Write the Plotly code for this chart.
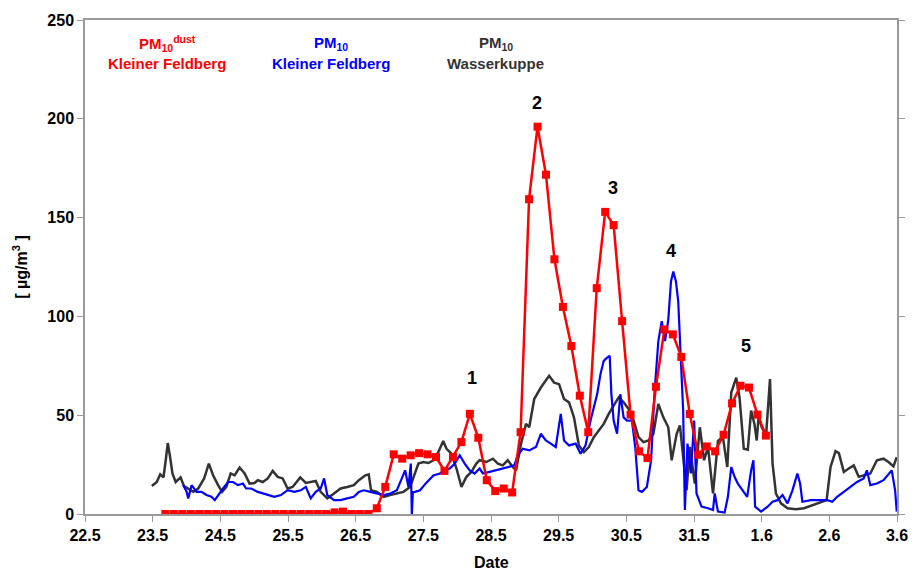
import plotly.graph_objects as go

# ---------------- data ----------------
# time axis: day number, 22 = 22.5 (22 May 00:00), 32 = 1.6, 34 = 3.6
tick_days = [22, 23, 24, 25, 26, 27, 28, 29, 30, 31, 32, 33, 34]
tick_labels = ["22.5", "23.5", "24.5", "25.5", "26.5", "27.5", "28.5",
               "29.5", "30.5", "31.5", "1.6", "2.6", "3.6"]

# PM10 dust, Kleiner Feldberg (3-hourly)
red_start = 23.1875
red_step = 0.125
red_pm10_dust = [0, 0, 0, 0, 0, 0, 0, 0, 0, 0,
                 0, 0, 0, 0, 0, 0, 0, 0, 0, 0,
                 0.8, 1.2, 0, 0, 0, 2.9, 13.7, 30.2, 28.0, 29.7,
                 30.8, 30.2, 28.8, 21.8, 28.8, 36.4, 50.7, 38.6, 17.1, 11.6,
                 12.9, 10.9, 41.4, 159.3, 196.0, 171.7, 128.9, 104.8, 85.0, 59.9,
                 41.4, 114.3, 152.9, 146.2, 97.6, 50.3, 31.7, 28.3, 64.4, 93.4,
                 90.9, 79.5, 50.6, 30.0, 34.2, 31.7, 40.1, 56.0, 64.9, 64.0,
                 50.3, 39.7]
red_time = [red_start + red_step * i for i in range(len(red_pm10_dust))]

# PM10, Kleiner Feldberg (offset in days from 22.5)
blue_offset = [1.453, 1.502, 1.526, 1.575, 1.648, 1.722, 1.795, 1.868, 1.918, 1.967,
               2.040, 2.114, 2.187, 2.260, 2.334, 2.382, 2.456, 2.554, 2.627, 2.701,
               2.799, 2.896, 2.994, 3.093, 3.189, 3.263, 3.336, 3.410, 3.483, 3.533,
               3.581, 3.680, 3.777, 3.875, 3.973, 4.047, 4.120, 4.217, 4.315, 4.414,
               4.510, 4.609, 4.682, 4.731, 4.781, 4.815, 4.830, 4.845, 4.877, 4.951,
               5.049, 5.148, 5.244, 5.318, 5.391, 5.465, 5.538, 5.611, 5.685, 5.758,
               5.831, 5.881, 5.978, 6.077, 6.175, 6.272, 6.345, 6.395, 6.469, 6.565,
               6.664, 6.737, 6.810, 6.884, 6.957, 7.031, 7.079, 7.153, 7.226, 7.251,
               7.324, 7.397, 7.471, 7.519, 7.569, 7.618, 7.666, 7.716, 7.754, 7.779,
               7.813, 7.863, 7.911, 7.960, 8.010, 8.083, 8.131, 8.180, 8.230, 8.303,
               8.366, 8.415, 8.473, 8.523, 8.572, 8.620, 8.660, 8.694, 8.733, 8.767,
               8.807, 8.840, 8.865, 8.904, 8.953, 9.002, 9.037, 9.111, 9.207, 9.281,
               9.306, 9.354, 9.452, 9.501, 9.551, 9.599, 9.648, 9.721, 9.786, 9.844,
               9.878, 9.903, 9.991, 10.088, 10.161, 10.235, 10.308, 10.382, 10.455, 10.528,
               10.568, 10.602, 10.725, 10.872, 10.969, 11.043, 11.115, 11.214, 11.312, 11.409,
               11.507, 11.555, 11.606, 11.703, 11.801, 11.874, 11.922, 11.972, 11.996]
blue_pm10_kf = [14.6, 11.2, 7.9, 14.6, 11.2, 11.2, 9.6, 8.7, 7.0, 9.6,
                12.9, 16.2, 16.2, 14.6, 15.4, 12.9, 12.9, 11.2, 10.4, 9.6,
                8.7, 9.6, 12.1, 11.2, 12.0, 13.7, 7.9, 11.2, 12.9, 18.0,
                9.6, 7.0, 7.0, 7.9, 8.7, 11.2, 12.0, 11.2, 10.4, 9.6,
                10.4, 12.0, 18.0, 22.1, 13.7, 25.5, 0.0, 11.0, 11.2, 12.0,
                16.0, 19.5, 20.5, 22.1, 23.0, 25.5, 29.7, 25.5, 22.1, 20.5,
                23.0, 20.5, 21.3, 22.1, 23.0, 23.8, 24.6, 29.7, 33.0, 32.2,
                33.9, 40.6, 37.2, 35.6, 33.9, 50.7, 37.2, 34.7, 35.6, 35.6,
                30.5, 34.7, 47.3, 54.0, 60.7, 70.8, 77.5, 79.1, 80.0, 60.7,
                47.3, 40.6, 60.7, 48.9, 47.3, 47.3, 33.9, 12.0, 11.2, 13.7,
                27.2, 60.7, 87.5, 97.6, 87.5, 98.4, 117.7, 122.7, 117.7, 107.6,
                77.5, 52.3, 2.0, 35.6, 20.5, 47.3, 10.4, 3.7, 2.9, 2.0,
                10.4, 1.2, 0.7, 8.7, 23.8, 18.8, 15.4, 12.0, 8.7, 22.1,
                27.2, 3.7, 1.2, 3.7, 6.2, 7.0, 9.6, 5.4, 12.0, 20.5,
                15.4, 6.2, 7.0, 7.0, 7.0, 6.2, 8.7, 11.2, 13.7, 16.2,
                18.0, 22.1, 14.6, 15.4, 17.1, 20.5, 22.1, 12.0, 1.2]

# PM10, Wasserkuppe (offset in days from 22.5)
black_offset = [0.988, 1.061, 1.111, 1.160, 1.193, 1.223, 1.258, 1.292, 1.340, 1.413,
                1.463, 1.526, 1.600, 1.673, 1.761, 1.830, 1.893, 1.967, 2.026, 2.089,
                2.153, 2.212, 2.285, 2.359, 2.432, 2.505, 2.554, 2.627, 2.701, 2.774,
                2.847, 2.921, 2.994, 3.068, 3.181, 3.263, 3.336, 3.410, 3.483, 3.581,
                3.680, 3.777, 3.875, 3.973, 4.047, 4.144, 4.193, 4.227, 4.315, 4.414,
                4.510, 4.609, 4.707, 4.804, 4.877, 4.927, 5.001, 5.074, 5.148, 5.221,
                5.294, 5.343, 5.416, 5.490, 5.563, 5.636, 5.710, 5.783, 5.831, 5.930,
                6.028, 6.102, 6.175, 6.248, 6.322, 6.370, 6.444, 6.517, 6.565, 6.639,
                6.737, 6.859, 6.932, 7.006, 7.079, 7.153, 7.226, 7.299, 7.373, 7.446,
                7.519, 7.593, 7.666, 7.740, 7.813, 7.886, 7.960, 8.033, 8.107, 8.180,
                8.253, 8.327, 8.400, 8.473, 8.547, 8.620, 8.670, 8.744, 8.792, 8.840,
                8.890, 8.939, 9.012, 9.086, 9.149, 9.207, 9.281, 9.354, 9.427, 9.492,
                9.551, 9.624, 9.673, 9.736, 9.795, 9.844, 9.893, 9.927, 9.956, 10.000,
                10.065, 10.123, 10.161, 10.211, 10.285, 10.382, 10.505, 10.627, 10.749, 10.872,
                10.960, 11.018, 11.092, 11.141, 11.214, 11.287, 11.361, 11.434, 11.507, 11.606,
                11.703, 11.801, 11.874, 11.948, 11.996]
black_pm10_wk = [14.2, 16.2, 20.1, 18.5, 27.2, 35.9, 28.8, 20.5, 16.2, 18.5,
                 14.1, 12.9, 11.2, 12.9, 18.0, 25.5, 19.6, 14.6, 11.2, 13.7,
                 20.5, 19.6, 23.5, 20.5, 15.4, 15.7, 17.1, 16.2, 18.0, 21.8,
                 18.8, 18.0, 12.9, 13.7, 18.5, 15.7, 16.2, 16.7, 11.2, 7.9,
                 10.4, 12.9, 13.7, 14.6, 17.1, 19.6, 20.1, 12.1, 11.2, 8.7,
                 9.6, 10.4, 11.2, 13.7, 20.5, 25.5, 26.3, 25.8, 27.2, 31.3,
                 36.9, 33.0, 30.5, 23.0, 13.7, 18.8, 21.3, 25.5, 27.2, 26.3,
                 28.0, 25.5, 24.6, 27.2, 23.8, 22.1, 35.6, 45.6, 43.9, 58.2,
                 64.0, 69.9, 66.5, 65.7, 58.2, 56.5, 48.9, 34.7, 31.3, 33.9,
                 38.9, 42.3, 45.6, 50.7, 54.8, 59.0, 56.5, 53.2, 47.3, 38.9,
                 36.4, 37.2, 40.6, 55.7, 48.9, 43.9, 27.2, 40.6, 44.8, 27.2,
                 12.1, 33.9, 15.4, 43.9, 27.2, 33.9, 10.4, 37.0, 39.0, 23.8,
                 61.5, 69.0, 59.0, 33.0, 32.5, 52.3, 45.6, 37.2, 49.8, 44.0,
                 39.7, 68.3, 25.5, 10.4, 5.4, 2.9, 2.4, 2.9, 4.5, 6.2,
                 7.0, 23.8, 31.8, 30.8, 21.3, 23.0, 24.6, 18.8, 19.6, 20.5,
                 27.2, 28.0, 26.3, 24.1, 28.8]

episode_labels = ["1", "2", "3", "4", "5"]
episode_day = [27.72, 28.68, 29.81, 30.66, 31.77]
episode_value = [69, 208, 165, 133, 85]

# ---------------- figure ----------------
BASE_DAY = 22
blue_time = [BASE_DAY + o for o in blue_offset]
black_time = [BASE_DAY + o for o in black_offset]

FONT = "Liberation Sans, Arial, sans-serif"

fig = go.Figure()
fig.add_trace(go.Scatter(x=black_time, y=black_pm10_wk, mode="lines",
                         line=dict(color="#333333", width=2.5), name="PM10 Wasserkuppe"))
fig.add_trace(go.Scatter(x=blue_time, y=blue_pm10_kf, mode="lines",
                         line=dict(color="#0000FF", width=2.2), name="PM10 Kleiner Feldberg"))
fig.add_trace(go.Scatter(x=red_time, y=red_pm10_dust, mode="lines+markers",
                         line=dict(color="#FF0000", width=2.5),
                         marker=dict(symbol="square", size=8, color="#FF0000"),
                         name="PM10 dust Kleiner Feldberg"))

for lab, dx, vy in zip(episode_labels, episode_day, episode_value):
    fig.add_annotation(x=dx, y=vy, text="<b>%s</b>" % lab, showarrow=False,
                       font=dict(family=FONT, size=18, color="black"))

legend_items = [
    ("PM<sub>10</sub><sup>dust</sup>", "Kleiner Feldberg", "#FF0000", 0.101),
    ("PM<sub>10</sub>", "Kleiner Feldberg", "#0000FF", 0.303),
    ("PM<sub>10</sub>", "Wasserkuppe", "#333333", 0.506),
]
for top, bottom, col, xp in legend_items:
    fig.add_annotation(xref="paper", yref="paper", x=xp, y=0.953,
                       xanchor="center", yanchor="middle",
                       text="<b>%s</b>" % top, showarrow=False,
                       font=dict(family=FONT, size=15, color=col))
    fig.add_annotation(xref="paper", yref="paper", x=xp, y=0.911,
                       xanchor="center", yanchor="middle",
                       text="<b>%s</b>" % bottom, showarrow=False,
                       font=dict(family=FONT, size=15, color=col))

# x-axis title
fig.add_annotation(xref="paper", yref="paper", x=0.5, y=-0.099,
                   xanchor="center", yanchor="middle", showarrow=False,
                   text="<b>Date</b>", font=dict(family=FONT, size=16, color="black"))

fig.update_layout(
    width=917, height=571,
    margin=dict(l=85, r=13, t=19, b=57),
    paper_bgcolor="white", plot_bgcolor="white",
    showlegend=False,
    font=dict(family=FONT, color="black"),
)
tickfont = dict(family=FONT, size=16, color="black", weight="bold")
fig.update_xaxes(
    range=[22, 34], tickvals=tick_days, ticktext=tick_labels,
    showline=True, linecolor="#999999", linewidth=1.5, mirror=True,
    ticks="outside", ticklen=6, tickcolor="#999999",
    showgrid=False, zeroline=False, automargin=False,
    tickfont=tickfont,
)
fig.update_yaxes(
    range=[0, 250], tickvals=[0, 50, 100, 150, 200, 250],
    showline=True, linecolor="#999999", linewidth=1.5, mirror="ticks",
    ticks="outside", ticklen=6, tickcolor="#999999",
    showgrid=False, zeroline=False,
    tickfont=tickfont,
    title=dict(text="<b>[ µg/m<sup>3</sup> ]</b>", font=dict(family=FONT, size=16, color="black"), standoff=16),
)

fig.write_html("out.html", config={"displayModeBar": False},
               post_script="document.body.style.margin='0px';")
